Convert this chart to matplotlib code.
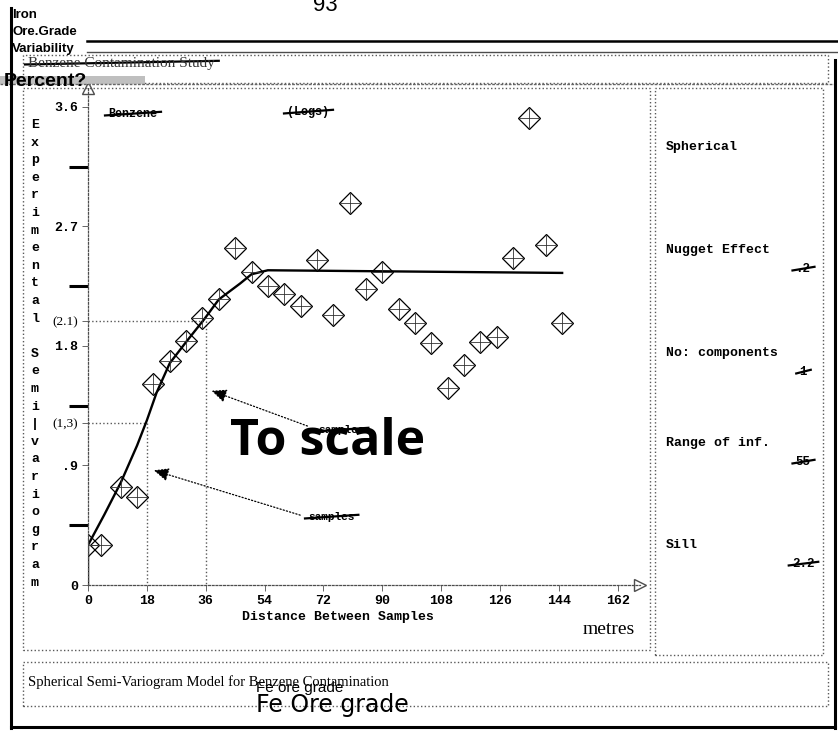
import matplotlib
matplotlib.use("Agg")
import matplotlib.pyplot as plt
from matplotlib.lines import Line2D
from matplotlib.patches import Rectangle

W, H = 838, 732

# values
lag = [0, 4, 10, 15, 20, 25, 30, 35, 40, 45, 50, 55, 60, 65, 70,
       75, 80, 85, 90, 95, 100, 105, 110, 115, 120, 125, 130, 135, 140, 145]
semivar = [0.30, 0.30, 0.74, 0.66, 1.51, 1.69, 1.84, 2.01, 2.15, 2.54,
           2.36, 2.25, 2.19, 2.10, 2.45, 2.03, 2.88, 2.23, 2.36, 2.08,
           1.97, 1.82, 1.48, 1.66, 1.83, 1.87, 2.46, 3.52, 2.56, 1.97]
model_x = [0, 0, 5, 10, 15, 18, 21, 25, 30, 35.5, 40, 46.5, 50, 55, 145]
model_y = [0, 0.30, 0.53, 0.77, 1.05, 1.24, 1.45, 1.67, 1.83, 2.00,
           2.15, 2.27, 2.34, 2.37, 2.35]
xticks = [0, 18, 36, 54, 72, 90, 108, 126, 144, 162]
yticks = [0, 0.9, 1.8, 2.7, 3.6]
ytick_labels = ['0', '.9', '1.8', '2.7', '3.6']
bold_yticks = [0.45, 1.35, 2.25, 3.15]
ref_x = [36, 18]
ref_y = [1.99, 1.22]
ref_labels = ['(2.1)', '(1,3)']
params = ['Spherical', 'Nugget Effect', 'No: components', 'Range of inf.', 'Sill']
param_vals = ['', '.2', '1', '55', '2.2']
param_rows = [147, 250, 353, 443, 545]   # pixel rows of the panel entries

MONO = 'Liberation Mono'
SERIF = 'Liberation Serif'
SANS = 'Liberation Sans'


def fx(px):
    return px / W


def fy(py):
    return 1 - py / H


fig = plt.figure(figsize=(W / 100, H / 100), dpi=100)
fig.patch.set_facecolor('white')

# ---- frames / boxes (scanned form)
def box(x0, y0, x1, y1, ls=':', lw=1.0, color='0.35'):
    fig.add_artist(Rectangle((fx(x0), fy(y1)), fx(x1) - fx(x0), fy(y0) - fy(y1),
                             transform=fig.transFigure, fill=False, ls=ls, lw=lw, ec=color))


def hline(y, x0, x1, lw=1.0, color='k', ls='-'):
    fig.add_artist(Line2D([fx(x0), fx(x1)], [fy(y), fy(y)], transform=fig.transFigure,
                          lw=lw, color=color, ls=ls))


def vline(x, y0, y1, lw=1.0, color='k', ls='-'):
    fig.add_artist(Line2D([fx(x), fx(x)], [fy(y0), fy(y1)], transform=fig.transFigure,
                          lw=lw, color=color, ls=ls))


hline(41, 87, 838, lw=1.8)
hline(52, 87, 838, lw=1.0, color='0.3')
box(23, 55, 828, 83)
fig.add_artist(Rectangle((fx(0), fy(84)), fx(145), fy(76) - fy(84), transform=fig.transFigure,
                         fill=True, fc='0.75', ec='none', hatch='////', lw=0))
hline(84, 0, 838, lw=1.0, color='0.4', ls=(0, (2, 1)))
box(23, 88, 650, 650)
box(655, 88, 823, 655)
box(23, 662, 828, 706)
vline(11, 8, 728, lw=2.2)
vline(835, 60, 728, lw=2.2)
hline(727, 11, 835, lw=2.2)

# ---- header texts
fig.text(fx(325), fy(11), '93', fontsize=16, family=SANS, ha='center', va='baseline')
fig.text(fx(12), fy(15), 'Iron', fontsize=9.5, family=SANS, weight='bold', va='center')
fig.text(fx(12), fy(32), 'Ore.Grade', fontsize=9.5, family=SANS, weight='bold', va='center')
fig.text(fx(12), fy(49), 'Variability', fontsize=9.5, family=SANS, weight='bold', va='center')
title_t = fig.text(fx(28), fy(63), 'Benzene Contamination Study', fontsize=11, family=SERIF,
                   va='center', color='0.2')
fig.text(fx(4), fy(81), 'Percent?', fontsize=14, family=SANS, weight='bold', va='center')

# ---- plot area
ax = fig.add_axes([fx(88), fy(585), fx(640) - fx(88), fy(88) - fy(585)])
ax.set_xlim(0, 552 / 3.27)
ax.set_ylim(0, 497 / 132.8)
ax.patch.set_alpha(0)
for s in ['top', 'right']:
    ax.spines[s].set_visible(False)
for s in ['left', 'bottom']:
    ax.spines[s].set_linestyle((0, (1.5, 1.5)))
    ax.spines[s].set_color('0.3')
    ax.spines[s].set_linewidth(0.9)

ax.set_xticks(xticks)
ax.set_xticklabels([str(v) for v in xticks], family=MONO, fontsize=9.5, weight='bold')
ax.set_yticks(yticks + ref_y)
ax.set_yticklabels(ytick_labels + ref_labels, fontsize=9.5)
for lab in ax.get_yticklabels():
    if lab.get_text().startswith('('):
        lab.set_family(SERIF)
    else:
        lab.set_family(MONO)
        lab.set_weight('bold')
ax.set_yticks(bold_yticks, minor=True)
ax.tick_params(which='major', length=4, width=0.7, color='0.4', pad=3)
ax.tick_params(axis='x', pad=3)
ax.tick_params(which='minor', axis='y', length=14, width=2.2, color='k')

ax.plot([ax.get_xlim()[1]], [0], marker='>', ms=9, mfc='white', mec='0.3', clip_on=False)
ax.plot([0], [ax.get_ylim()[1]], marker='^', ms=9, mfc='white', mec='0.3', clip_on=False)

for rx, ry in zip(ref_x, ref_y):
    ax.plot([0, rx], [ry, ry], ls=':', color='0.35', lw=1)
    ax.plot([rx, rx], [ry, 0], ls=':', color='0.35', lw=1)

ax.plot(model_x, model_y, color='k', lw=1.7)
ax.plot(lag, semivar, ls='none', marker='D', ms=11, mfc='none', mec='k', mew=0.9)
ax.plot(lag, semivar, ls='none', marker='+', ms=14.5, mec='0.2', mew=0.6)

ax.annotate('', xy=(37.0, 1.47), xytext=(67.9, 1.19),
            arrowprops=dict(arrowstyle='-|>,head_length=0.9,head_width=0.4', ls=':',
                            color='k', lw=0.9))
ax.annotate('', xy=(19.3, 0.87), xytext=(65.7, 0.52),
            arrowprops=dict(arrowstyle='-|>,head_length=0.9,head_width=0.4', ls=':',
                            color='k', lw=0.9))

# ---- axis labels
ylabel = 'Experimental Semi|variogram'
for i, ch in enumerate(ylabel):
    fig.text(fx(35), fy(125 + i * 17.6), ch, fontsize=9.5, family=MONO, weight='bold',
             ha='center', va='center')
fig.text(fx(338), fy(617), 'Distance Between Samples', fontsize=9.5, family=MONO,
         weight='bold', ha='center', va='center')
fig.text(fx(609), fy(630), 'metres', fontsize=14, family=SERIF, ha='center', va='center')

struck = []
struck.append(fig.text(fx(108), fy(114), 'Benzene', fontsize=8.5, family=MONO,
                       weight='bold', va='center'))
struck.append(fig.text(fx(287), fy(112), '(Logs)', fontsize=8.5, family=MONO,
                       weight='bold', va='center'))
struck.append(fig.text(fx(318), fy(430), 'samples', fontsize=8, family=MONO,
                       weight='bold', va='center'))
struck.append(fig.text(fx(308), fy(517), 'samples', fontsize=8, family=MONO,
                       weight='bold', va='center'))

fig.text(fx(230), fy(442), 'To scale', fontsize=36, family='Open Sans', weight='bold',
         va='center', ha='left')

# ---- parameter panel
for name, val, row in zip(params, param_vals, param_rows):
    fig.text(fx(666), fy(row), name, fontsize=9.5, family=MONO, weight='bold', va='center')
    if val:
        struck.append(fig.text(fx(803), fy(row + 19), val, fontsize=9, family=MONO,
                               weight='bold', ha='center', va='center'))

# ---- caption
fig.text(fx(28), fy(682), 'Spherical Semi-Variogram Model for Benzene Contamination',
         fontsize=10.5, family=SERIF, va='center')
fig.text(fx(256), fy(688), 'Fe ore grade', fontsize=11, family=SANS, va='center')
fig.text(fx(256), fy(705), 'Fe Ore grade', fontsize=17, family='DejaVu Sans',
         va='center', color='k')

# strike-through lines over the crossed-out words
fig.canvas.draw()
r = fig.canvas.get_renderer()
inv = fig.transFigure.inverted()
for t in struck + [title_t]:
    bb = t.get_window_extent(r)
    (x0, y0), (x1, y1) = inv.transform([(bb.x0 - 3, bb.y0), (bb.x1 + 4, bb.y1)])
    ym = (y0 + y1) / 2
    fig.add_artist(Line2D([x0, x1], [ym - 0.002, ym + 0.003], transform=fig.transFigure,
                          lw=1.6, color='k'))

fig.savefig('out.png', dpi=100)
